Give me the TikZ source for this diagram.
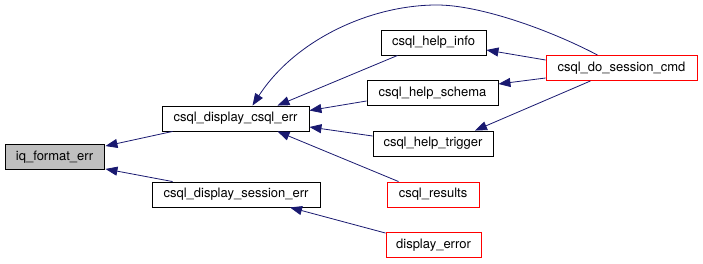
\documentclass[tikz,border=0pt]{standalone}
\usepackage{fontspec}
\setmainfont{TeX Gyre Heros}
\usetikzlibrary{arrows.meta,calc}
\definecolor{edgeblue}{HTML}{191970}
\definecolor{rootgray}{HTML}{BFBFBF}
\begin{document}
\begin{tikzpicture}[x=1pt,y=-1pt,
  fnbox/.style={draw=black,line width=0.9pt,fill=white,rectangle,inner sep=0pt,
    minimum height=25pt,font=\fontsize{13}{15}\selectfont},
  rootbox/.style={fnbox,fill=rootgray},
  callerbox/.style={fnbox,draw=red},
  callarrow/.style={draw=edgeblue,line width=0.8pt,
    -{Triangle[length=12pt,width=9pt]}}]
\useasboundingbox (0,0) rectangle (703,264);

% function nodes
\node[rootbox,minimum width=99pt]    (iq)      at (54.5,157)  {iq\_format\_err};
\node[fnbox,minimum width=147pt]     (err)     at (235.5,118.5) {csql\_display\_csql\_err};
\node[fnbox,minimum width=168pt]     (sess)    at (236,194.5) {csql\_display\_session\_err};
\node[fnbox,minimum width=105pt]     (info)    at (433.5,42.5) {csql\_help\_info};
\node[fnbox,minimum width=131pt]     (schema)  at (432.5,93)  {csql\_help\_schema};
\node[fnbox,minimum width=120pt]     (trigger) at (433,143.5) {csql\_help\_trigger};
\node[callerbox,minimum width=151pt] (cmd)     at (621.5,68)  {csql\_do\_session\_cmd};
\node[callerbox,minimum width=92pt]  (results) at (433,194.5) {csql\_results};
\node[callerbox,minimum width=95pt]  (disp)    at (433.5,245) {display\_error};

% call edges (arrow points at the called function)
\draw[callarrow] ($(err.south west)+(11,0)$) -- ($(iq.north east)+(1,2)$);
\draw[callarrow] ($(sess.north west)+(21,0)$) -- ($(iq.south east)+(1,-1)$);
\draw[callarrow] ($(info.south west)+(17,0)$) -- ($(err.north)+(42,0)$);
\draw[callarrow] ($(schema.west)+(0,8)$) -- ($(err.east)+(0,-8)$);
\draw[callarrow] ($(trigger.west)+(0,-7.5)$) -- ($(err.east)+(0,8.5)$);
\draw[callarrow] ($(results.north west)+(12,0)$) -- ($(err.south)+(42,0)$);
\draw[callarrow] ($(disp.north west)+(0,1)$) -- ($(sess.south)+(54,0)$);
\draw[callarrow] ($(cmd.west)+(0,-8)$) -- ($(info.east)+(0,7.5)$);
\draw[callarrow] ($(cmd.west)+(0,10)$) -- ($(schema.east)+(0,-9)$);
\draw[callarrow] ($(cmd.south)+(-31,0)$) -- ($(trigger.north)+(42,0)$);
\coordinate (arcTop) at (437,5);
\draw[callarrow] ($(cmd.north)+(-24,0)$) .. controls (550,30) and (480,5) .. (arcTop)
  .. controls (370,5) and (295,40) .. ($(err.north)+(17,0)$);
\end{tikzpicture}
\end{document}
